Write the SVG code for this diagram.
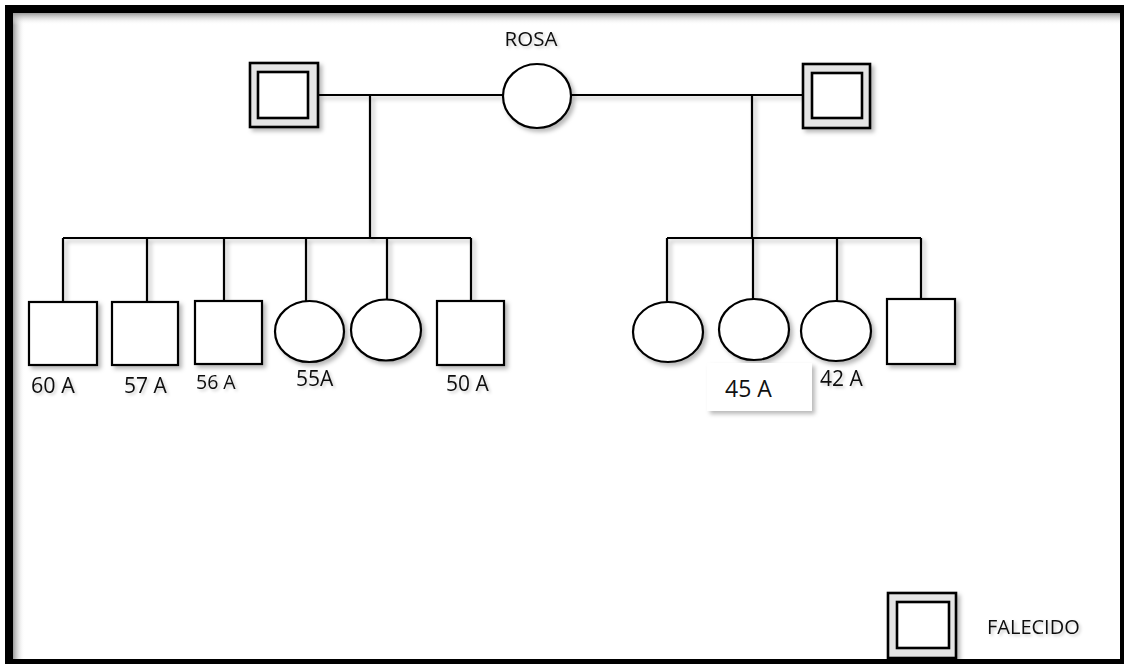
<svg xmlns="http://www.w3.org/2000/svg" width="1124" height="664" viewBox="0 0 1124 664">
  <defs>
    <style>
      .ln { stroke: #000; stroke-width: 2.2; fill: none; }
      .shp { stroke: #000; stroke-width: 2.2; fill: #fff; }
      .out { stroke: #000; stroke-width: 2.6; fill: #e4e4e4; }
      .inn { stroke: #000; stroke-width: 2.6; fill: #fff; }
      .lbl { font-family: "Open Sans", "Liberation Sans", sans-serif; fill: #111; }
    </style>
    <filter id="sh" x="-20%" y="-20%" width="150%" height="150%">
      <feDropShadow dx="3" dy="3" stdDeviation="2" flood-color="#000" flood-opacity="0.28"/>
    </filter>
    <filter id="tsh" x="-20%" y="-20%" width="150%" height="160%">
      <feDropShadow dx="2" dy="2" stdDeviation="1.5" flood-color="#000" flood-opacity="0.2"/>
    </filter>
    <linearGradient id="gl" x1="0" y1="0" x2="1" y2="0">
      <stop offset="0" stop-color="#9a9a9a"/>
      <stop offset="1" stop-color="#fff" stop-opacity="0"/>
    </linearGradient>
    <linearGradient id="gt" x1="0" y1="0" x2="0" y2="1">
      <stop offset="0" stop-color="#9a9a9a"/>
      <stop offset="1" stop-color="#fff" stop-opacity="0"/>
    </linearGradient>
  </defs>

  <rect x="0" y="0" width="1124" height="664" fill="#fff"/>
  <!-- frame -->
  <g id="frame">
    <rect x="13" y="13" width="12" height="646" fill="url(#gl)"/>
    <rect x="13" y="13" width="1107" height="12" fill="url(#gt)"/>
    <rect x="9" y="9" width="1115" height="654" fill="none" stroke="#000" stroke-width="8"/>
  </g>

  <!-- connectors -->
  <g id="connectors" class="ln" filter="url(#sh)">
    <line x1="319" y1="95" x2="503" y2="95"/>
    <line x1="571" y1="95" x2="802" y2="95"/>
    <line x1="370" y1="95" x2="370" y2="238"/>
    <line x1="752" y1="95" x2="752" y2="238"/>
    <line x1="63" y1="238" x2="471" y2="238"/>
    <line x1="63" y1="238" x2="63" y2="302"/>
    <line x1="147" y1="238" x2="147" y2="302"/>
    <line x1="224" y1="238" x2="224" y2="301"/>
    <line x1="306" y1="238" x2="306" y2="301"/>
    <line x1="387" y1="238" x2="387" y2="299"/>
    <line x1="471" y1="238" x2="471" y2="301"/>
    <line x1="667" y1="238" x2="921" y2="238"/>
    <line x1="667" y1="238" x2="667" y2="302"/>
    <line x1="753" y1="238" x2="753" y2="299"/>
    <line x1="837" y1="238" x2="837" y2="301"/>
    <line x1="921" y1="238" x2="921" y2="299"/>
  </g>

  <!-- parents -->
  <g id="father1" filter="url(#sh)">
    <rect class="out" x="250" y="63" width="68" height="64"/>
    <rect class="inn" x="258" y="72" width="50" height="46"/>
  </g>
  <g id="rosa">
    <ellipse class="shp" cx="537" cy="96" rx="34" ry="32" filter="url(#sh)"/>
    <text class="lbl" x="531" y="46" text-anchor="middle" font-size="20.5" filter="url(#tsh)">ROSA</text>
  </g>
  <g id="father2" filter="url(#sh)">
    <rect class="out" x="803" y="64" width="67" height="64"/>
    <rect class="inn" x="812" y="73" width="50" height="45"/>
  </g>

  <!-- left children -->
  <g id="c1">
    <rect class="shp" x="29" y="302" width="68" height="63" filter="url(#sh)"/>
    <text class="lbl" x="31" y="393" font-size="21.5" filter="url(#tsh)">60 A</text>
  </g>
  <g id="c2">
    <rect class="shp" x="112" y="302" width="66" height="63" filter="url(#sh)"/>
    <text class="lbl" x="124" y="393" font-size="21" filter="url(#tsh)">57 A</text>
  </g>
  <g id="c3">
    <rect class="shp" x="195" y="301" width="67" height="63" filter="url(#sh)"/>
    <text class="lbl" x="196" y="389" font-size="19.5" filter="url(#tsh)">56 A</text>
  </g>
  <g id="c4">
    <ellipse class="shp" cx="309.5" cy="331.5" rx="34.5" ry="30.5" filter="url(#sh)"/>
    <text class="lbl" x="296" y="386" font-size="21" filter="url(#tsh)">55A</text>
  </g>
  <g id="c5">
    <ellipse class="shp" cx="386" cy="330" rx="35" ry="30.5" filter="url(#sh)"/>
  </g>
  <g id="c6">
    <rect class="shp" x="437" y="301" width="67" height="64" filter="url(#sh)"/>
    <text class="lbl" x="446" y="391" font-size="21" filter="url(#tsh)">50 A</text>
  </g>

  <!-- right children -->
  <g id="c7">
    <ellipse class="shp" cx="668" cy="332" rx="35" ry="30" filter="url(#sh)"/>
  </g>
  <g id="c8">
    <ellipse class="shp" cx="754" cy="329.5" rx="35" ry="30.5" filter="url(#sh)"/>
    <rect x="707" y="363" width="105" height="48" fill="#fff" filter="url(#sh)"/>
    <text class="lbl" x="725" y="397" font-size="23">45 A</text>
  </g>
  <g id="c9">
    <ellipse class="shp" cx="836" cy="331" rx="35" ry="30" filter="url(#sh)"/>
    <text class="lbl" x="820" y="386" font-size="21" filter="url(#tsh)">42 A</text>
  </g>
  <g id="c10">
    <rect class="shp" x="887" y="299" width="68" height="65" filter="url(#sh)"/>
  </g>

  <!-- legend -->
  <g id="legend">
    <g filter="url(#sh)">
      <rect class="out" x="888" y="593" width="68" height="65"/>
      <rect class="inn" x="897" y="602" width="52" height="46"/>
    </g>
    <text class="lbl" x="987" y="634" font-size="20" filter="url(#tsh)">FALECIDO</text>
  </g>
</svg>
